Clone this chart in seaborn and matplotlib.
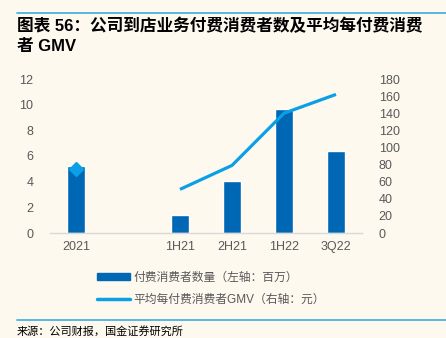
import matplotlib
matplotlib.use("Agg")
import matplotlib.pyplot as plt
import seaborn as sns
import numpy as np
import pandas as pd
from matplotlib.lines import Line2D
from matplotlib.patches import Patch

categories = ["2021", " ", "1H21", "2H21", "1H22", "3Q22"]
payers = [5.2, np.nan, 1.4, 4.05, 9.7, 6.4]          # 百万 (left axis)
gmv = [75, np.nan, 51, 79, 140, 162]                  # 元 (right axis)
left_ticks = [0, 2, 4, 6, 8, 10, 12]
right_ticks = [0, 20, 40, 60, 80, 100, 120, 140, 160, 180]

title_lines = ["图表 56：公司到店业务付费消费者数及平均每付费消费",
               "者 GMV"]
bar_label = "付费消费者数量（左轴：百万）"
line_label = "平均每付费消费者GMV（右轴：元）"
source = "来源：公司财报，国金证券研究所"

BG = "#FDF9EF"
BAR = "#0067B4"
LINE = "#0BA0E6"
RULE = "#4BB0E4"
GREY = "#595959"

sns.set_theme(style="white")
plt.rcParams["font.family"] = ["Liberation Sans", "Noto Sans CJK SC", "DejaVu Sans"]

fig = plt.figure(figsize=(4.46, 3.38), dpi=100, facecolor=BG)
ax = fig.add_axes([50/446, 1-233/338, 312/446, 154/338])
ax.set_facecolor(BG)

df = pd.DataFrame({"cat": categories, "payers": payers, "gmv": gmv})
sns.barplot(data=df, x="cat", y="payers", order=categories, color=BAR,
            saturation=1, width=0.33, ax=ax)
ax.set_xlim(-0.5, len(categories) - 0.5)
ax.set_ylim(0, 12)
ax.set_yticks(left_ticks)
ax.set_xlabel("")
ax.set_ylabel("")

ax2 = ax.twinx()
xpos = np.arange(len(categories))
ax2.plot(xpos, gmv, color=LINE, lw=2.3, marker="D", markersize=7,
         markevery=[0], solid_capstyle="butt")
ax2.set_ylim(0, 180)
ax2.set_yticks(right_ticks)

for a in (ax, ax2):
    for s in a.spines.values():
        s.set_visible(False)
ax.spines["bottom"].set_visible(True)
ax.spines["bottom"].set_color("#D9D9D9")
ax.spines["bottom"].set_linewidth(1)

ax.tick_params(axis="y", length=0, labelsize=9, labelcolor=GREY, pad=12)
ax2.tick_params(axis="y", length=0, labelsize=9, labelcolor=GREY, pad=12)
ax.set_xticks(xpos)
ax.set_xticklabels(categories)
ax.tick_params(axis="x", length=0, labelsize=9, labelcolor=GREY, pad=6)
ax.set_xticks(np.arange(-0.5, len(categories)), minor=True)
ax.tick_params(axis="x", which="minor", length=4, color="#D9D9D9", direction="in", width=1)

# title and rules
fig.add_artist(Line2D([17/446, 1], [1-13/338, 1-13/338], color=RULE, lw=1.3))
fig.text(17/446, 1-26/338, title_lines[0], fontsize=12, fontweight="bold",
         color="black", va="center", ha="left")
fig.text(17/446, 1-46/338, title_lines[1], fontsize=12, fontweight="bold",
         color="black", va="center", ha="left")
fig.add_artist(Line2D([17/446, 1], [1-320/338, 1-320/338], color=RULE, lw=1.3))
fig.text(17/446, 1-331/338, source, fontsize=8, color="black", va="center", ha="left")

handles = [Patch(facecolor=BAR, edgecolor=BAR),
           Line2D([0], [0], color=LINE, lw=2.5)]
fig.legend(handles, [bar_label, line_label], loc="center left",
           bbox_to_anchor=(86/446, 1-289/338), frameon=False, fontsize=8.5,
           labelcolor=GREY, handlelength=2.8, handleheight=0.6,
           handletextpad=0.3, labelspacing=0.9)

fig.savefig("out.png", dpi=100, facecolor=BG)
